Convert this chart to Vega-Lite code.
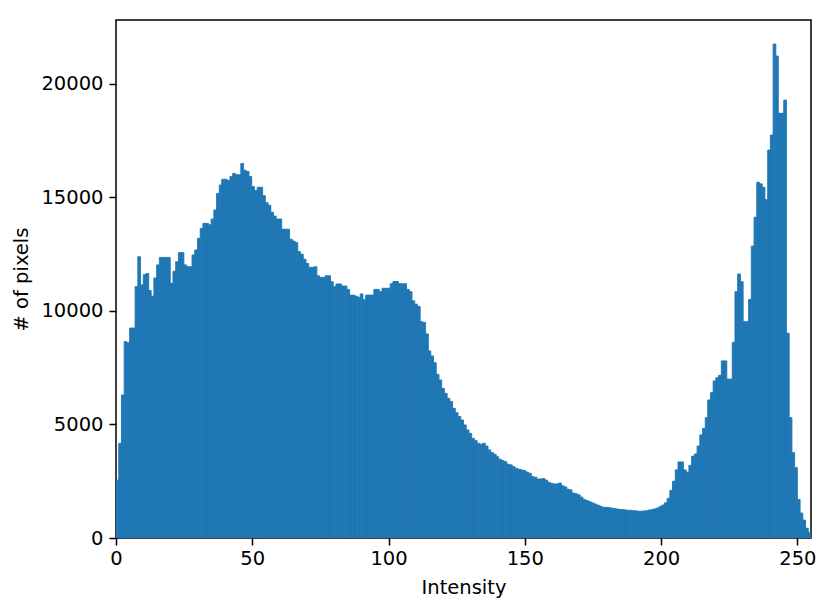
{
"$schema": "https://vega.github.io/schema/vega-lite/v6.json",
"width": 695, "height": 518,
"autosize": {"type": "none"},
"padding": {"left": 116, "top": 20, "right": 20, "bottom": 73},
"background": "white",
"config": {"view": {"stroke": "black", "strokeWidth": 1.5}, "font": "DejaVu Sans"},
"data": {"values": [
{"lo":0,"hi":1,"n":2550},{"lo":1,"hi":2,"n":4170},{"lo":2,"hi":3,"n":6300},{"lo":3,"hi":4,"n":8650},{"lo":4,"hi":5,"n":8600},
{"lo":5,"hi":6,"n":9250},{"lo":6,"hi":7,"n":9250},{"lo":7,"hi":8,"n":11070},{"lo":8,"hi":9,"n":12390},{"lo":9,"hi":10,"n":11150},
{"lo":10,"hi":11,"n":11600},{"lo":11,"hi":12,"n":11650},{"lo":12,"hi":12.9,"n":10900},{"lo":12.9,"hi":13.9,"n":10650},{"lo":13.9,"hi":14.9,"n":11450},
{"lo":14.9,"hi":15.9,"n":12030},{"lo":15.9,"hi":16.9,"n":12360},{"lo":16.9,"hi":17.9,"n":12360},{"lo":17.9,"hi":18.9,"n":12360},{"lo":18.9,"hi":19.9,"n":12360},
{"lo":19.9,"hi":20.9,"n":11220},{"lo":20.9,"hi":21.9,"n":11750},{"lo":21.9,"hi":22.9,"n":12170},{"lo":22.9,"hi":23.9,"n":12570},{"lo":23.9,"hi":24.9,"n":12570},
{"lo":24.9,"hi":25.9,"n":12030},{"lo":25.9,"hi":26.9,"n":11950},{"lo":26.9,"hi":27.9,"n":11950},{"lo":27.9,"hi":28.9,"n":12470},{"lo":28.9,"hi":29.9,"n":12690},
{"lo":29.9,"hi":30.9,"n":13200},{"lo":30.9,"hi":31.9,"n":13640},{"lo":31.9,"hi":32.9,"n":13860},{"lo":32.9,"hi":33.9,"n":13860},{"lo":33.9,"hi":34.9,"n":13800},
{"lo":34.9,"hi":35.9,"n":14050},{"lo":35.9,"hi":36.9,"n":14450},{"lo":36.9,"hi":37.9,"n":15180},{"lo":37.9,"hi":38.8,"n":15550},{"lo":38.8,"hi":39.8,"n":15800},
{"lo":39.8,"hi":40.8,"n":15800},{"lo":40.8,"hi":41.8,"n":15750},{"lo":41.8,"hi":42.8,"n":15920},{"lo":42.8,"hi":43.8,"n":16060},{"lo":43.8,"hi":44.8,"n":16000},
{"lo":44.8,"hi":45.8,"n":16000},{"lo":45.8,"hi":46.8,"n":16500},{"lo":46.8,"hi":47.8,"n":16200},{"lo":47.8,"hi":48.8,"n":16140},{"lo":48.8,"hi":49.8,"n":15920},
{"lo":49.8,"hi":50.8,"n":15480},{"lo":50.8,"hi":51.8,"n":15300},{"lo":51.8,"hi":52.8,"n":15450},{"lo":52.8,"hi":53.8,"n":15450},{"lo":53.8,"hi":54.8,"n":15080},
{"lo":54.8,"hi":55.8,"n":14770},{"lo":55.8,"hi":56.8,"n":14660},{"lo":56.8,"hi":57.8,"n":14350},{"lo":57.8,"hi":58.8,"n":14180},{"lo":58.8,"hi":59.8,"n":14050},
{"lo":59.8,"hi":60.8,"n":14050},{"lo":60.8,"hi":61.8,"n":13600},{"lo":61.8,"hi":62.8,"n":13600},{"lo":62.8,"hi":63.7,"n":13600},{"lo":63.7,"hi":64.7,"n":13160},
{"lo":64.7,"hi":65.7,"n":13080},{"lo":65.7,"hi":66.7,"n":13010},{"lo":66.7,"hi":67.7,"n":12610},{"lo":67.7,"hi":68.7,"n":12500},{"lo":68.7,"hi":69.7,"n":12280},
{"lo":69.7,"hi":70.7,"n":12100},{"lo":70.7,"hi":71.7,"n":11920},{"lo":71.7,"hi":72.7,"n":11920},{"lo":72.7,"hi":73.7,"n":11950},{"lo":73.7,"hi":74.7,"n":11550},
{"lo":74.7,"hi":75.7,"n":11480},{"lo":75.7,"hi":76.7,"n":11480},{"lo":76.7,"hi":77.7,"n":11550},{"lo":77.7,"hi":78.7,"n":11550},{"lo":78.7,"hi":79.7,"n":11290},
{"lo":79.7,"hi":80.7,"n":11070},{"lo":80.7,"hi":81.7,"n":11190},{"lo":81.7,"hi":82.7,"n":11190},{"lo":82.7,"hi":83.7,"n":11100},{"lo":83.7,"hi":84.7,"n":11100},
{"lo":84.7,"hi":85.7,"n":10950},{"lo":85.7,"hi":86.7,"n":10700},{"lo":86.7,"hi":87.7,"n":10700},{"lo":87.7,"hi":88.7,"n":10650},{"lo":88.7,"hi":89.6,"n":10600},
{"lo":89.6,"hi":90.6,"n":10750},{"lo":90.6,"hi":91.6,"n":10500},{"lo":91.6,"hi":92.6,"n":10700},{"lo":92.6,"hi":93.6,"n":10700},{"lo":93.6,"hi":94.6,"n":10700},
{"lo":94.6,"hi":95.6,"n":10950},{"lo":95.6,"hi":96.6,"n":10950},{"lo":96.6,"hi":97.6,"n":10850},{"lo":97.6,"hi":98.6,"n":11000},{"lo":98.6,"hi":99.6,"n":11000},
{"lo":99.6,"hi":100.6,"n":11000},{"lo":100.6,"hi":101.6,"n":11200},{"lo":101.6,"hi":102.6,"n":11300},{"lo":102.6,"hi":103.6,"n":11300},{"lo":103.6,"hi":104.6,"n":11200},
{"lo":104.6,"hi":105.6,"n":11200},{"lo":105.6,"hi":106.6,"n":11200},{"lo":106.6,"hi":107.6,"n":10950},{"lo":107.6,"hi":108.6,"n":10850},{"lo":108.6,"hi":109.6,"n":10450},
{"lo":109.6,"hi":110.6,"n":10300},{"lo":110.6,"hi":111.6,"n":10200},{"lo":111.6,"hi":112.6,"n":9530},{"lo":112.6,"hi":113.6,"n":9490},{"lo":113.6,"hi":114.6,"n":8990},
{"lo":114.6,"hi":115.5,"n":8240},{"lo":115.5,"hi":116.5,"n":8020},{"lo":116.5,"hi":117.5,"n":7720},{"lo":117.5,"hi":118.5,"n":7210},{"lo":118.5,"hi":119.5,"n":6960},
{"lo":119.5,"hi":120.5,"n":6590},{"lo":120.5,"hi":121.5,"n":6370},{"lo":121.5,"hi":122.5,"n":6150},{"lo":122.5,"hi":123.5,"n":6010},{"lo":123.5,"hi":124.5,"n":5710},
{"lo":124.5,"hi":125.5,"n":5520},{"lo":125.5,"hi":126.5,"n":5350},{"lo":126.5,"hi":127.5,"n":5200},{"lo":127.5,"hi":128.5,"n":4980},{"lo":128.5,"hi":129.5,"n":4760},
{"lo":129.5,"hi":130.5,"n":4610},{"lo":130.5,"hi":131.5,"n":4390},{"lo":131.5,"hi":132.5,"n":4290},{"lo":132.5,"hi":133.5,"n":4170},{"lo":133.5,"hi":134.5,"n":4130},
{"lo":134.5,"hi":135.5,"n":4170},{"lo":135.5,"hi":136.5,"n":4050},{"lo":136.5,"hi":137.5,"n":3880},{"lo":137.5,"hi":138.5,"n":3760},{"lo":138.5,"hi":139.5,"n":3690},
{"lo":139.5,"hi":140.4,"n":3580},{"lo":140.4,"hi":141.4,"n":3470},{"lo":141.4,"hi":142.4,"n":3410},{"lo":142.4,"hi":143.4,"n":3360},{"lo":143.4,"hi":144.4,"n":3250},
{"lo":144.4,"hi":145.4,"n":3220},{"lo":145.4,"hi":146.4,"n":3140},{"lo":146.4,"hi":147.4,"n":3070},{"lo":147.4,"hi":148.4,"n":3030},{"lo":148.4,"hi":149.4,"n":3000},
{"lo":149.4,"hi":150.4,"n":2970},{"lo":150.4,"hi":151.4,"n":2900},{"lo":151.4,"hi":152.4,"n":2850},{"lo":152.4,"hi":153.4,"n":2700},{"lo":153.4,"hi":154.4,"n":2680},
{"lo":154.4,"hi":155.4,"n":2600},{"lo":155.4,"hi":156.4,"n":2600},{"lo":156.4,"hi":157.4,"n":2620},{"lo":157.4,"hi":158.4,"n":2550},{"lo":158.4,"hi":159.4,"n":2450},
{"lo":159.4,"hi":160.4,"n":2400},{"lo":160.4,"hi":161.4,"n":2380},{"lo":161.4,"hi":162.4,"n":2380},{"lo":162.4,"hi":163.4,"n":2420},{"lo":163.4,"hi":164.4,"n":2300},
{"lo":164.4,"hi":165.4,"n":2250},{"lo":165.4,"hi":166.3,"n":2150},{"lo":166.3,"hi":167.3,"n":2120},{"lo":167.3,"hi":168.3,"n":1980},{"lo":168.3,"hi":169.3,"n":1950},
{"lo":169.3,"hi":170.3,"n":1900},{"lo":170.3,"hi":171.3,"n":1800},{"lo":171.3,"hi":172.3,"n":1700},{"lo":172.3,"hi":173.3,"n":1650},{"lo":173.3,"hi":174.3,"n":1600},
{"lo":174.3,"hi":175.3,"n":1550},{"lo":175.3,"hi":176.3,"n":1500},{"lo":176.3,"hi":177.3,"n":1450},{"lo":177.3,"hi":178.3,"n":1400},{"lo":178.3,"hi":179.3,"n":1350},
{"lo":179.3,"hi":180.3,"n":1350},{"lo":180.3,"hi":181.3,"n":1340},{"lo":181.3,"hi":182.3,"n":1320},{"lo":182.3,"hi":183.3,"n":1300},{"lo":183.3,"hi":184.3,"n":1280},
{"lo":184.3,"hi":185.3,"n":1260},{"lo":185.3,"hi":186.3,"n":1250},{"lo":186.3,"hi":187.3,"n":1240},{"lo":187.3,"hi":188.3,"n":1220},{"lo":188.3,"hi":189.3,"n":1220},
{"lo":189.3,"hi":190.3,"n":1200},{"lo":190.3,"hi":191.2,"n":1200},{"lo":191.2,"hi":192.2,"n":1180},{"lo":192.2,"hi":193.2,"n":1180},{"lo":193.2,"hi":194.2,"n":1190},
{"lo":194.2,"hi":195.2,"n":1200},{"lo":195.2,"hi":196.2,"n":1230},{"lo":196.2,"hi":197.2,"n":1250},{"lo":197.2,"hi":198.2,"n":1280},{"lo":198.2,"hi":199.2,"n":1320},
{"lo":199.2,"hi":200.2,"n":1380},{"lo":200.2,"hi":201.2,"n":1450},{"lo":201.2,"hi":202.2,"n":1550},{"lo":202.2,"hi":203.2,"n":1750},{"lo":203.2,"hi":204.2,"n":2100},
{"lo":204.2,"hi":205.2,"n":2500},{"lo":205.2,"hi":206.2,"n":3000},{"lo":206.2,"hi":207.2,"n":3350},{"lo":207.2,"hi":208.2,"n":3350},{"lo":208.2,"hi":209.2,"n":3000},
{"lo":209.2,"hi":210.2,"n":2900},{"lo":210.2,"hi":211.2,"n":3200},{"lo":211.2,"hi":212.2,"n":3600},{"lo":212.2,"hi":213.2,"n":3700},{"lo":213.2,"hi":214.2,"n":4050},
{"lo":214.2,"hi":215.2,"n":4540},{"lo":215.2,"hi":216.2,"n":4830},{"lo":216.2,"hi":217.1,"n":5300},{"lo":217.1,"hi":218.1,"n":6080},{"lo":218.1,"hi":219.1,"n":6400},
{"lo":219.1,"hi":220.1,"n":6920},{"lo":220.1,"hi":221.1,"n":7060},{"lo":221.1,"hi":222.1,"n":7170},{"lo":222.1,"hi":223.1,"n":7800},{"lo":223.1,"hi":224.1,"n":7800},
{"lo":224.1,"hi":225.1,"n":7000},{"lo":225.1,"hi":226.1,"n":7000},{"lo":226.1,"hi":227.1,"n":8620},{"lo":227.1,"hi":228.1,"n":10850},{"lo":228.1,"hi":229.1,"n":11630},
{"lo":229.1,"hi":230.1,"n":11290},{"lo":230.1,"hi":231.1,"n":9530},{"lo":231.1,"hi":232.1,"n":9530},{"lo":232.1,"hi":233.1,"n":10510},{"lo":233.1,"hi":234.1,"n":12860},
{"lo":234.1,"hi":235.1,"n":14130},{"lo":235.1,"hi":236.1,"n":15670},{"lo":236.1,"hi":237.1,"n":15600},{"lo":237.1,"hi":238.1,"n":15450},{"lo":238.1,"hi":239.1,"n":14900},
{"lo":239.1,"hi":240.1,"n":17090},{"lo":240.1,"hi":241.1,"n":17750},{"lo":241.1,"hi":242.1,"n":21760},{"lo":242.1,"hi":243,"n":21230},{"lo":243,"hi":244,"n":18710},
{"lo":244,"hi":245,"n":18710},{"lo":245,"hi":246,"n":19290},{"lo":246,"hi":247,"n":9020},{"lo":247,"hi":248,"n":5300},{"lo":248,"hi":249,"n":3760},
{"lo":249,"hi":250,"n":3100},{"lo":250,"hi":251,"n":1700},{"lo":251,"hi":252,"n":1100},{"lo":252,"hi":253,"n":790},{"lo":253,"hi":254,"n":430},
{"lo":254,"hi":255,"n":250}
]},
"mark": {"type": "rect", "color": "#1f77b4", "stroke": "#1f77b4", "strokeWidth": 0.9, "clip": true},
"encoding": {
  "x": {"field": "lo", "type": "quantitative",
        "scale": {"domain": [0, 255], "nice": false, "zero": false},
        "axis": {"values": [0, 50, 100, 150, 200, 250], "title": "Intensity", "grid": false, "domain": false,
                 "tickColor": "black", "tickWidth": 1.5, "tickSize": 7, "labelFontSize": 19.5, "labelColor": "black",
                 "labelPadding": 4, "labelFlush": false, "titleFontSize": 19.5, "titleFontWeight": "normal", "titleColor": "black", "titlePadding": 11}},
  "x2": {"field": "hi"},
  "y": {"field": "n", "type": "quantitative",
        "scale": {"domain": [0, 22818], "nice": false},
        "axis": {"values": [0, 5000, 10000, 15000, 20000], "format": "d", "title": "# of pixels", "grid": false, "domain": false,
                 "tickColor": "black", "tickWidth": 1.5, "tickSize": 7, "labelFontSize": 19.5, "labelColor": "black",
                 "labelPadding": 6, "labelFlush": false, "titleFontSize": 19.5, "titleFontWeight": "normal", "titleColor": "black", "titlePadding": 9}},
  "y2": {"datum": 0}
}
}
